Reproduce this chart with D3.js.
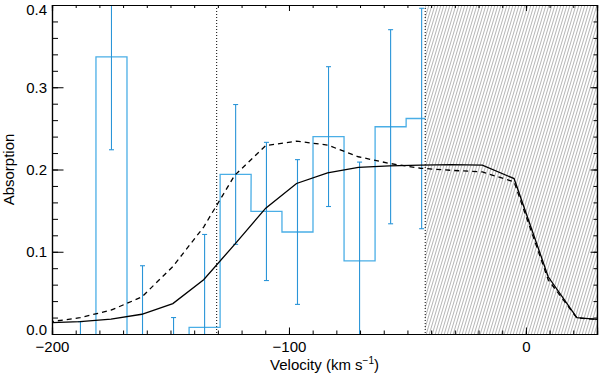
<!DOCTYPE html>
<html>
<head>
<meta charset="utf-8">
<script src="https://cdn.jsdelivr.net/npm/d3@7"></script>
<style>
  body { margin: 0; background: #fff; }
  text { font-family: "Liberation Sans", Arial, sans-serif; font-size: 15px; fill: #000; }
</style>
</head>
<body>
<svg id="chart" width="600" height="375"></svg>
<script>
// binned absorption, km/s bin centres
const binCenters = [-188.0, -174.9, -161.8, -148.7, -135.6, -122.5, -109.5, -96.4, -83.3, -70.2, -57.1, -44.0]
const binWidth = 13.09
const absorption = [-0.095, 0.337, -0.03, -0.09, 0.008, 0.194, 0.149, 0.124, 0.240, 0.089, 0.252, 0.262]
const absErr = [0.110, 0.113, 0.113, 0.110, 0.113, 0.085, 0.084, 0.088, 0.085, 0.120, 0.118, 0.134]

// model profiles
const modelVel = [-201.3, -188.2, -175.1, -162.1, -149.0, -136.0, -122.9, -109.8, -96.8, -83.7, -70.7, -57.6, -44.5, -31.5, -18.4, -5.0, 9.4, 21.5, 33.8]
const modelSolid = [0.0137, 0.015, 0.018, 0.024, 0.037, 0.066, 0.109, 0.153, 0.183, 0.196, 0.2025, 0.2045, 0.2053, 0.206, 0.2053, 0.189, 0.0696, 0.0198, 0.017]
const modelDashed = [0.0146, 0.0198, 0.029, 0.045, 0.082, 0.130, 0.193, 0.229, 0.2345, 0.2297, 0.2155, 0.2074, 0.2015, 0.199, 0.197, 0.185, 0.066, 0.0195, 0.017]

// markers
const dottedLines = [-130.5, -42.5]
const hatchFrom = -42.5

const xTicks = [-200, -100, 0]
const yTicks = [0, 0.1, 0.2, 0.3, 0.4]

const margin = {top: 5, right: 3, bottom: 41, left: 52}
const width = 600 - margin.left - margin.right
const height = 375 - margin.top - margin.bottom

const svg = d3.select('#chart')
const g = svg.append('g').attr('transform', `translate(${margin.left},${margin.top})`)

const x = d3.scaleLinear().domain([-200, 30]).range([0, width])
const y = d3.scaleLinear().domain([0, 0.4]).range([height, 0])

const defs = svg.append('defs')
defs.append('clipPath').attr('id', 'plotclip')
  .append('rect').attr('width', width).attr('height', height)

const pat = defs.append('pattern')
  .attr('id', 'hatch')
  .attr('patternUnits', 'userSpaceOnUse')
  .attr('width', 3).attr('height', 10)
pat.append('path')
  .attr('d', 'M -1 10 L 2 0 M 2 10 L 5 0 M -4 10 L -1 0')
  .attr('stroke', '#8c8c8c')
  .attr('stroke-width', 0.65)
  .attr('fill', 'none')

const plot = g.append('g').attr('clip-path', 'url(#plotclip)')

// hatched region
plot.append('rect')
  .attr('x', x(hatchFrom))
  .attr('y', 0)
  .attr('width', x(30) - x(hatchFrom))
  .attr('height', height)
  .attr('fill', 'url(#hatch)')

// dotted verticals
plot.selectAll('line.dotted')
  .data(dottedLines)
  .enter()
  .append('line')
  .attr('class', 'dotted')
  .attr('x1', (d) => x(d)).attr('x2', (d) => x(d))
  .attr('y1', 0).attr('y2', height)
  .attr('stroke', '#000')
  .attr('stroke-width', 1)
  .attr('stroke-dasharray', '1,2')

// histogram as a step line, cut at the hatched boundary
const bins = binCenters.map((c, i) => ({
  v0: c - binWidth / 2,
  v1: Math.min(c + binWidth / 2, hatchFrom),
  c: c,
  val: absorption[i],
  err: absErr[i]
}))

let stepPts = []
bins.forEach((b) => {
  stepPts.push([x(b.v0), y(b.val)])
  stepPts.push([x(b.v1), y(b.val)])
})
stepPts.unshift([stepPts[0][0], y(-0.3)])

plot.append('path')
  .attr('d', d3.line()(stepPts))
  .attr('fill', 'none')
  .attr('stroke', '#4aaee6')
  .attr('stroke-width', 1.3)

// error bars
const eb = plot.selectAll('g.err')
  .data(bins)
  .enter()
  .append('g')
  .attr('class', 'err')
  .attr('stroke', '#2a95d8')
  .attr('stroke-width', 1.1)

eb.append('line')
  .attr('x1', (b) => x(b.c)).attr('x2', (b) => x(b.c))
  .attr('y1', (b) => y(b.val - b.err)).attr('y2', (b) => y(b.val + b.err))
eb.append('line')
  .attr('x1', (b) => x(b.c) - 2.5).attr('x2', (b) => x(b.c) + 2.5)
  .attr('y1', (b) => y(b.val + b.err)).attr('y2', (b) => y(b.val + b.err))
eb.append('line')
  .attr('x1', (b) => x(b.c) - 2.5).attr('x2', (b) => x(b.c) + 2.5)
  .attr('y1', (b) => y(b.val - b.err)).attr('y2', (b) => y(b.val - b.err))

// model curves
const modelLine = d3.line()
  .x((d) => x(d[0]))
  .y((d) => y(d[1]))

plot.append('path')
  .attr('d', modelLine(modelVel.map((v, i) => [v, modelDashed[i]])))
  .attr('fill', 'none')
  .attr('stroke', '#000')
  .attr('stroke-width', 1.3)
  .attr('stroke-dasharray', '5,4')

plot.append('path')
  .attr('d', modelLine(modelVel.map((v, i) => [v, modelSolid[i]])))
  .attr('fill', 'none')
  .attr('stroke', '#000')
  .attr('stroke-width', 1.3)

// axes: ticks inward on all four sides
const xMinor = d3.range(-200, 31, 10)
const yMinor = d3.range(0, 0.401, 0.02)

const axBottom = g.append('g').attr('transform', `translate(0,${height})`)
axBottom.call(d3.axisTop(x).tickValues(xMinor).tickSize(3.5).tickFormat(''))
axBottom.append('g').call(d3.axisTop(x).tickValues(xTicks).tickSize(6.5).tickFormat(''))
axBottom.append('g').call(d3.axisBottom(x).tickValues(xTicks).tickSize(0).tickPadding(7).tickFormat(d3.format('d')))
  .call((s) => s.select('.domain').remove())

const axTop = g.append('g')
axTop.call(d3.axisBottom(x).tickValues(xMinor).tickSize(3).tickFormat(''))
axTop.append('g').call(d3.axisBottom(x).tickValues(xTicks).tickSize(6).tickFormat(''))

const axLeft = g.append('g')
axLeft.call(d3.axisRight(y).tickValues(yMinor).tickSize(6).tickFormat(''))
axLeft.append('g').call(d3.axisRight(y).tickValues(yTicks).tickSize(11.5).tickFormat(''))
const yLab = axLeft.append('g').call(d3.axisLeft(y).tickValues(yTicks).tickSize(0).tickPadding(5).tickFormat(d3.format('.1f')))
  .call((s) => s.select('.domain').remove())
// end labels are pulled inside the frame, as in the original
yLab.selectAll('.tick text')
  .attr('dy', (d) => d === 0 ? '-0.0em' : d === 0.4 ? '0.65em' : '0.32em')

const axRight = g.append('g').attr('transform', `translate(${width},0)`)
axRight.call(d3.axisLeft(y).tickValues(yMinor).tickSize(3.5).tickFormat(''))
axRight.append('g').call(d3.axisLeft(y).tickValues(yTicks).tickSize(6.5).tickFormat(''))

g.selectAll('.tick line').attr('stroke', '#000').attr('stroke-width', 1)
g.selectAll('.domain').attr('stroke', '#000').attr('stroke-width', 1.2)
g.selectAll('.tick text').style('font-size', '15px').style('font-family', '"Liberation Sans", Arial, sans-serif')

// axis titles
const xTitle = g.append('text')
  .attr('x', width / 2)
  .attr('y', height + 36)
  .attr('text-anchor', 'middle')
xTitle.append('tspan').text('Velocity (km s')
xTitle.append('tspan').attr('dy', -6).style('font-size', '10px').text('−1')
xTitle.append('tspan').attr('dy', 6).text(')')

g.append('text')
  .attr('transform', `translate(${-38},${height / 2}) rotate(-90)`)
  .attr('text-anchor', 'middle')
  .text('Absorption')
</script>
</body>
</html>
